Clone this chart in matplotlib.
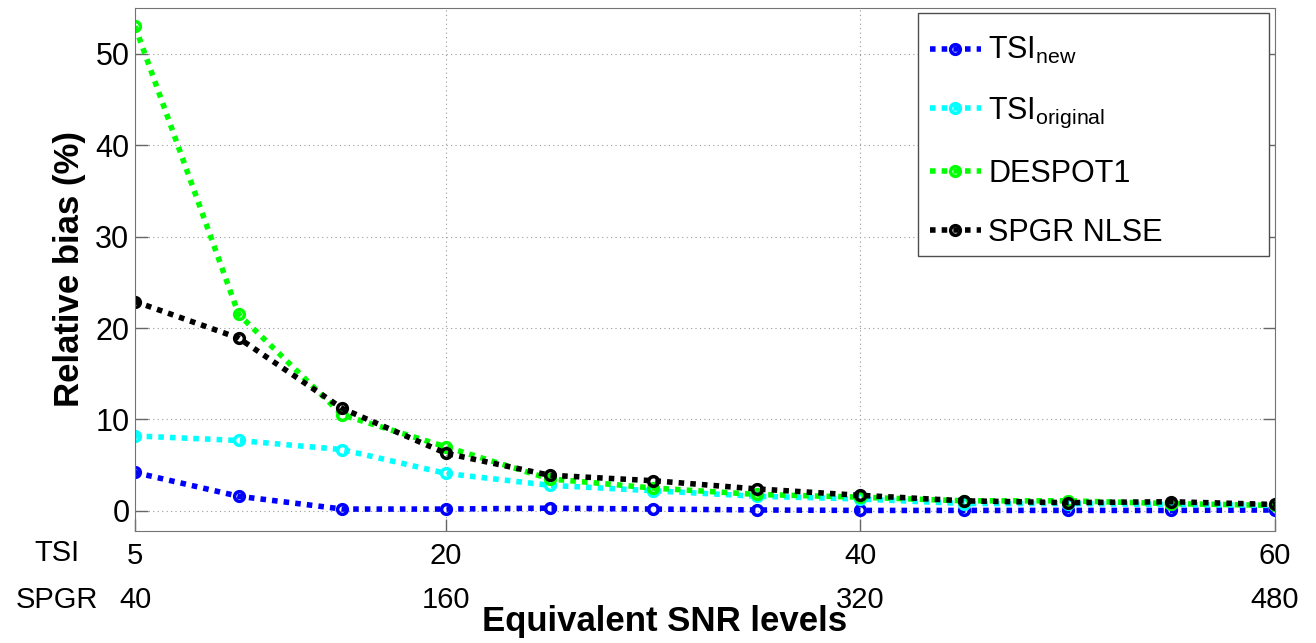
import matplotlib
matplotlib.use('Agg')
import matplotlib.pyplot as plt
import matplotlib.transforms as mtransforms
from matplotlib.patches import Rectangle

plt.rcParams['font.family'] = ['Liberation Sans', 'DejaVu Sans']
plt.rcParams['mathtext.fontset'] = 'custom'
plt.rcParams['mathtext.rm'] = 'Liberation Sans'

# TSI SNR levels and the equivalent SPGR levels
snr_tsi = [5, 10, 15, 20, 25, 30, 35, 40, 45, 50, 55, 60]
tick_tsi = [5, 20, 40, 60]
tick_spgr = ['40', '160', '320', '480']

tsi_new = [4.2, 1.6, 0.2, 0.2, 0.3, 0.2, 0.1, 0.05, 0.05, 0.05, 0.05, 0.1]
tsi_original = [8.2, 7.7, 6.7, 4.1, 2.8, 2.2, 1.6, 1.3, 0.8, 0.8, 0.7, 0.6]
despot1 = [53.0, 21.5, 10.5, 7.0, 3.5, 2.5, 1.8, 1.5, 1.1, 1.1, 0.8, 0.6]
spgr_nlse = [22.9, 18.9, 11.2, 6.3, 3.9, 3.3, 2.4, 1.7, 1.1, 0.9, 1.0, 0.7]

series = [
    (tsi_new, '#0000ff', 'TSI$_{\\mathrm{new}}$'),
    (tsi_original, '#00ffff', 'TSI$_{\\mathrm{original}}$'),
    (despot1, '#00ff00', 'DESPOT1'),
    (spgr_nlse, '#000000', 'SPGR NLSE'),
]

W, H = 1316, 643
fig = plt.figure(figsize=(W / 100, H / 100), dpi=100)
ax = fig.add_axes([135 / W, 1 - 531 / H, 1140 / W, 523 / H])

for vals, col, lab in series:
    ax.plot(snr_tsi, vals, linestyle=(0, (1, 1.1)), lw=4, color=col,
            marker='o', ms=7, mew=2.5, mfc='none', mec=col, label=lab)

ax.set_xlim(5, 60)
ax.set_ylim(-2.2, 55)
ax.set_yticks([0, 10, 20, 30, 40, 50])
ax.set_xticks(tick_tsi)
ax.set_xticklabels([str(t) for t in tick_tsi])
ax.tick_params(direction='in', length=9, width=1, colors='0.4', labelcolor='black',
               labelsize=21, top=False, right=True)
ax.tick_params(axis='x', pad=8)
ax.tick_params(axis='y', pad=4, labelsize=22)
for s in ax.spines.values():
    s.set_color('0.45')
ax.grid(True, linestyle=(0, (1, 3)), color='0.6', lw=0.8)

# second row of tick labels (SPGR equivalent)
trans = mtransforms.blended_transform_factory(ax.transData, fig.transFigure)
for t, lab in zip(tick_tsi, tick_spgr):
    ax.text(t, 1 - 600 / H, lab, transform=trans, ha='center', va='center', fontsize=21)
fig.text(57 / W, 1 - 553 / H, 'TSI', ha='center', va='center', fontsize=21)
fig.text(57 / W, 1 - 600 / H, 'SPGR', ha='center', va='center', fontsize=21)

fig.text(665 / W, 1 - 622 / H, 'Equivalent SNR levels', ha='center', va='center',
         fontsize=25, fontweight='bold')
fig.text(70 / W, 1 - 269 / H, 'Relative bias (%)', ha='center', va='center',
         rotation=90, fontsize=25, fontweight='bold')

# legend box (wider than the entries, as in the original)
box = Rectangle((918 / W, 1 - 256 / H), 351 / W, 243 / H, transform=fig.transFigure,
                facecolor='white', edgecolor='0.3', lw=1, zorder=4.5, clip_on=False)
ax.add_patch(box)
leg = ax.legend(loc='upper left', bbox_to_anchor=(918 / W, 1 - 23 / H),
                bbox_transform=fig.transFigure, fontsize=22, handlelength=1.65,
                handletextpad=0.25, labelspacing=0.95, borderaxespad=0,
                borderpad=0.4, frameon=False)
leg.set_zorder(5)

plt.savefig('out.png', dpi=100)
